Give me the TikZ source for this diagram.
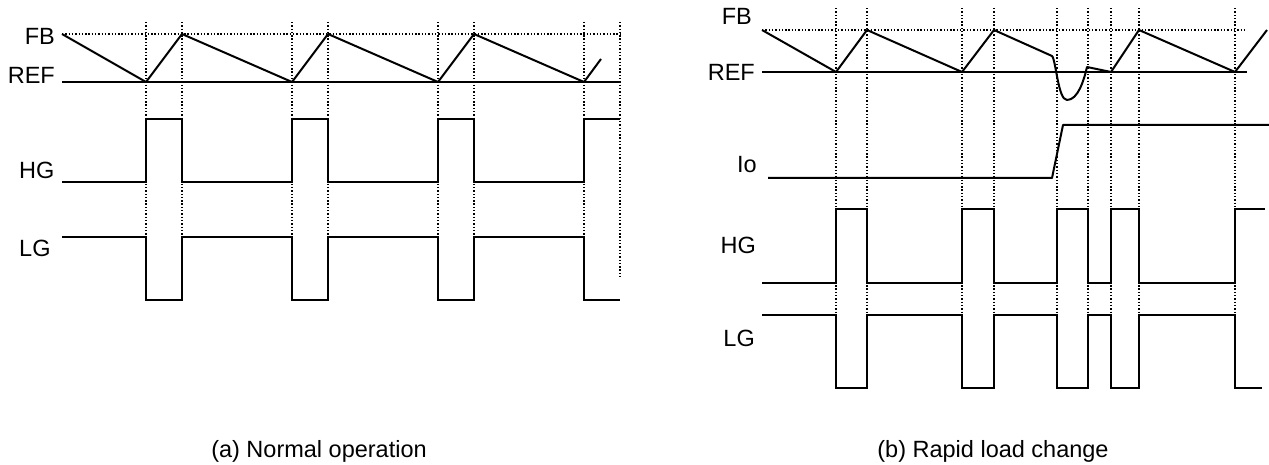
\documentclass[tikz,border=0pt]{standalone}
\usepackage{fontspec}
\setmainfont{Liberation Sans}
\def\guideline(#1:#2:#3){\draw[guide] (#1, #2) -- (#1, #3);}
\tikzset{
	wave/.style={line width=1.6pt, line join=miter},
	ramp/.style={line width=2pt, line join=round},
	guide/.style={line width=1.3pt, dash pattern=on 1.4pt off 1.9pt},
	lbl/.style={inner sep=0pt, font=\fontsize{23.5}{28}\selectfont},
}

\begin{document}
\begin{tikzpicture}[x=1pt, y=-1pt]
			\useasboundingbox (0, 0) rectangle (1269, 465);
			
			%%%%% (a) NORMAL OPERATION %%%%%
			\guideline(146:22:237)
			\guideline(182:22:237)
			\guideline(292:22:237)
			\guideline(328:22:237)
			\guideline(438:22:237)
			\guideline(474:22:237)
			\guideline(584:22:237)
			\guideline(620:22:278)
			\draw[guide] (62, 34) -- (620, 34);
			
			\node[lbl, anchor=east] (fbA) at (55, 36) {FB};
			\node[lbl, anchor=east] (refA) at (55, 75) {REF};
			\node[lbl, anchor=west] (hgA) at (19, 170) {HG};
			\node[lbl, anchor=west] (lgA) at (19, 248) {LG};
			
			\draw[wave] (62, 82) -- (620, 82);
			\draw[ramp] (62, 34) -- (146, 82) -- (182, 34) -- (292, 82) -- (328, 34) -- (438, 82) -- (474, 34) -- (584, 82) -- (601, 59);
			
			\draw[wave] (62, 182) -- (146, 182) -- (146, 119) -- (182, 119) -- (182, 182) -- (292, 182) -- (292, 119) -- (328, 119) -- (328, 182)
				-- (438, 182) -- (438, 119) -- (474, 119) -- (474, 182) -- (584, 182) -- (584, 119) -- (620, 119);
			\draw[wave] (62, 237) -- (146, 237) -- (146, 300) -- (182, 300) -- (182, 237) -- (292, 237) -- (292, 300) -- (328, 300) -- (328, 237)
				-- (438, 237) -- (438, 300) -- (474, 300) -- (474, 237) -- (584, 237) -- (584, 300) -- (620, 300);
			
			\node[lbl] (capA) at (319, 451) {(a) Normal operation};
			
			%%%%% (b) RAPID LOAD CHANGE %%%%%
			\guideline(836:8:315)
			\guideline(867:8:315)
			\guideline(962:8:315)
			\guideline(994:8:315)
			\guideline(1057:8:315)
			\guideline(1088:8:315)
			\guideline(1111:8:315)
			\guideline(1139:8:315)
			\guideline(1235:8:315)
			\draw[guide] (762, 30) -- (1246, 30);
			
			\node[lbl, anchor=east] (fbB) at (752, 16) {FB};
			\node[lbl, anchor=east] (refB) at (755, 72) {REF};
			\node[lbl, anchor=east] (ioB) at (757, 165) {Io};
			\node[lbl, anchor=east] (hgB) at (756, 245) {HG};
			\node[lbl, anchor=east] (lgB) at (755, 338) {LG};
			
			\draw[wave] (762, 72) -- (1247, 72);
			\draw[ramp] (762, 30) -- (836, 72) -- (867, 30) -- (962, 72) -- (994, 30) -- (1052, 56)
				.. controls (1056, 60) and (1058, 100) .. (1067, 100)
				.. controls (1078, 100) and (1084, 80) .. (1087, 67)
				-- (1111, 72) -- (1139, 30) -- (1235, 72) -- (1267, 30);
			
			\draw[ramp] (768, 178) -- (1052, 178) -- (1063, 125) -- (1269, 125);
			
			\draw[wave] (762, 283) -- (836, 283) -- (836, 209) -- (867, 209) -- (867, 283) -- (962, 283) -- (962, 209) -- (994, 209) -- (994, 283)
				-- (1057, 283) -- (1057, 209) -- (1088, 209) -- (1088, 283) -- (1111, 283) -- (1111, 209) -- (1139, 209) -- (1139, 283)
				-- (1235, 283) -- (1235, 209) -- (1265, 209);
			\draw[wave] (762, 315) -- (836, 315) -- (836, 388) -- (867, 388) -- (867, 315) -- (962, 315) -- (962, 388) -- (994, 388) -- (994, 315)
				-- (1057, 315) -- (1057, 388) -- (1088, 388) -- (1088, 315) -- (1111, 315) -- (1111, 388) -- (1139, 388) -- (1139, 315)
				-- (1235, 315) -- (1235, 388) -- (1262, 388);
			
			\node[lbl] (capB) at (993, 451) {(b) Rapid load change};
			%%%%% END %%%%%
		\end{tikzpicture}
\end{document}
